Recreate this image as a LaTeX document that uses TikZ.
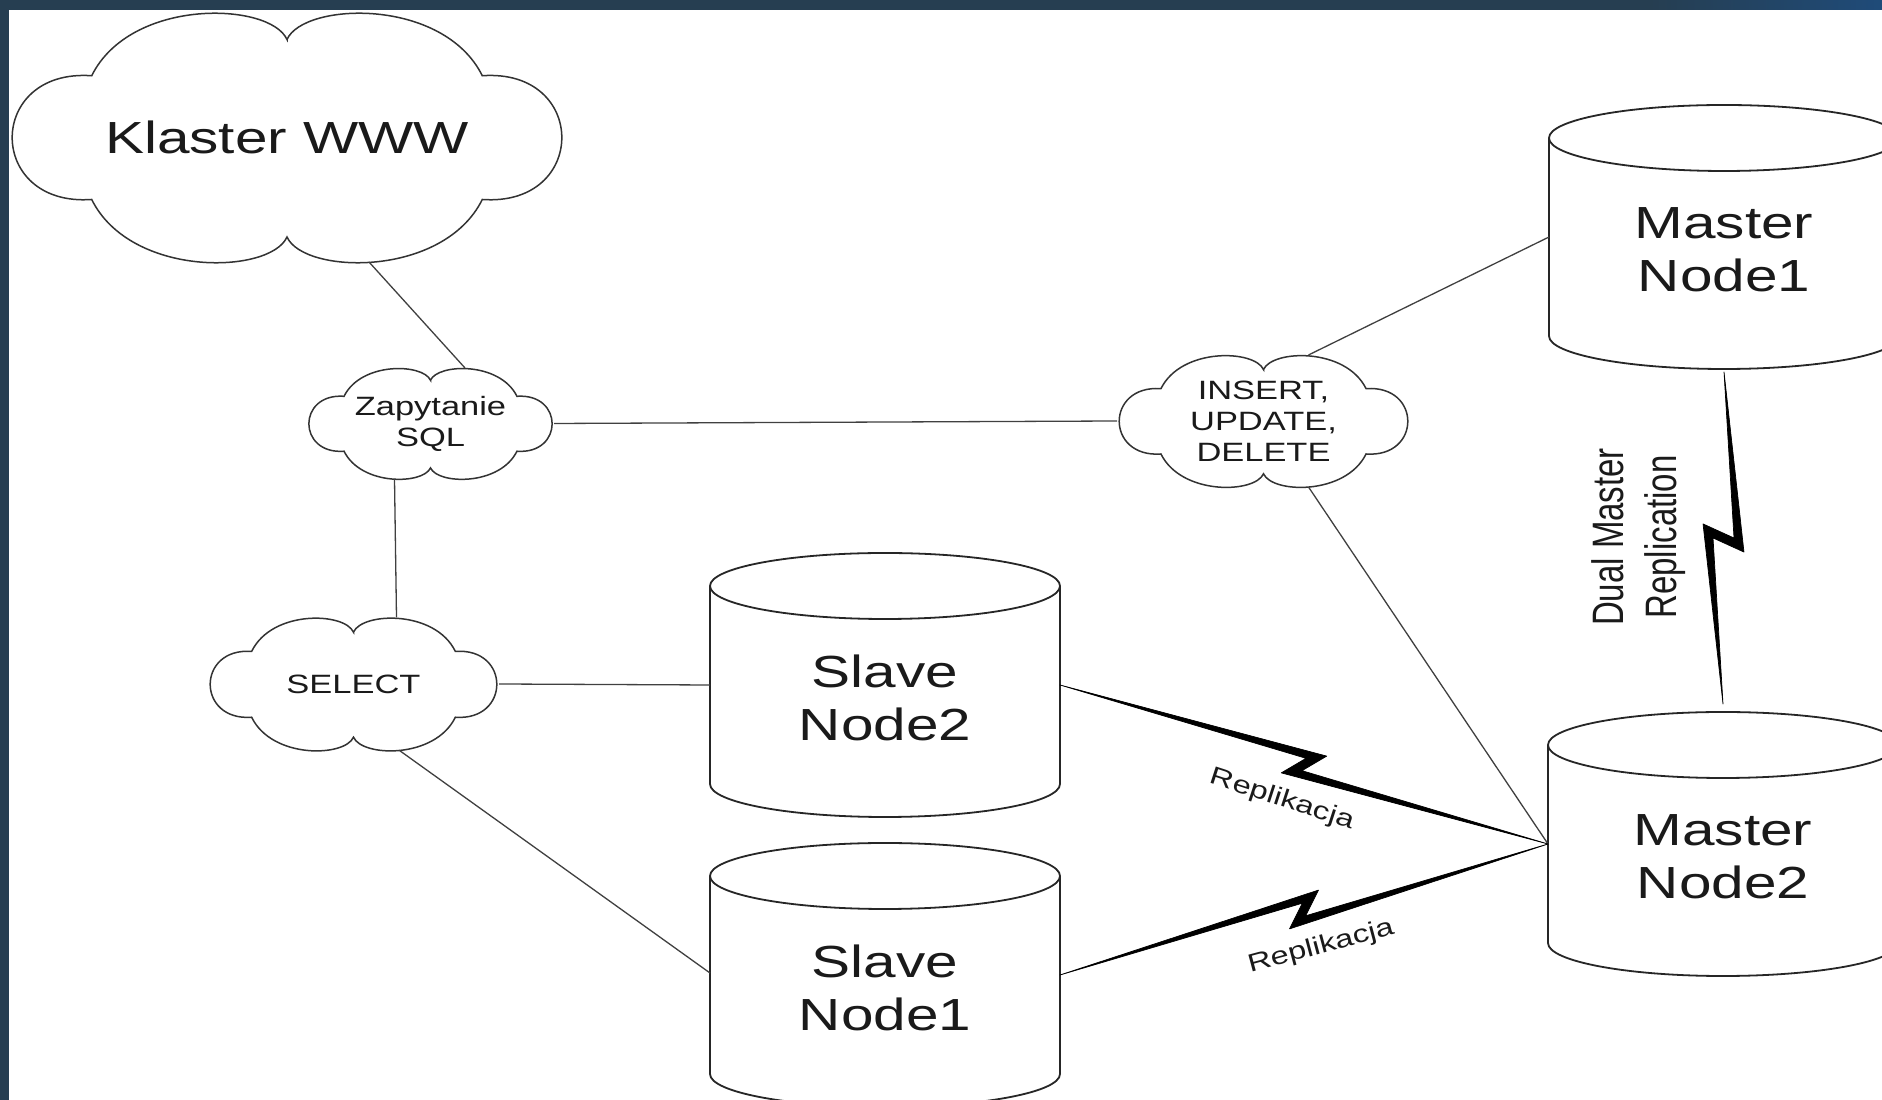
\documentclass[tikz,border=0pt]{standalone}
\usepackage{fontspec}
\setmainfont{Liberation Sans}[FakeStretch=1.3]
\newfontfamily\narrowfont{Liberation Sans}[FakeStretch=0.75]
\usetikzlibrary{calc}
\definecolor{frame}{HTML}{263E51}
\definecolor{frameblue}{HTML}{1F4B79}
\definecolor{ink}{HTML}{1A1A1A}

\newcommand{\cloudshape}[3]{%
  \draw[cloudline, shift={(#1.center)}, xscale=#2, yscale=#3]
    (0,0.78) .. controls (0.06,1.08) and (0.56,1.12) .. (0.70,0.49)
    .. controls (1.08,0.55) and (1.08,-0.56) .. (0.70,-0.50)
    .. controls (0.56,-1.13) and (0.06,-1.10) .. (0,-0.80)
    .. controls (-0.06,-1.10) and (-0.56,-1.13) .. (-0.70,-0.50)
    .. controls (-1.08,-0.56) and (-1.08,0.55) .. (-0.70,0.49)
    .. controls (-0.56,1.12) and (-0.06,1.08) .. cycle;}

\newcommand{\dbshape}[1]{%
  \draw[cylline] ([yshift=-33pt]#1.north) ellipse [x radius=175pt, y radius=33pt];
  \draw[cylline] ([yshift=-33pt]#1.north west) -- ([yshift=33pt]#1.south west)
    arc[start angle=180, end angle=360, x radius=175pt, y radius=33pt]
    -- ([yshift=-33pt]#1.north east);}

\newcommand{\bolt}[5]{%
  \filldraw[boltstyle] (#1)
    -- ($(#1)!0.5!(#2)!#3!(#2)!#4!90:(#2)$)
    -- ($(#1)!0.5!(#2)!-#5!90:(#2)$)
    -- (#2)
    -- ($(#1)!0.5!(#2)!-#3!(#2)!-#4!90:(#2)$)
    -- ($(#1)!0.5!(#2)!#5!90:(#2)$)
    -- cycle;}

\begin{document}
\begin{tikzpicture}[x=1pt,y=1pt,
  cloudline/.style={draw=black!80, line width=1.5pt},
  cylline/.style={draw=black!85, line width=1.8pt},
  link/.style={draw=black!75, line width=1.3pt},
  boltstyle/.style={fill=black, draw=black, line width=0.7pt, line join=round},
  box/.style={inner sep=0pt, outer sep=0pt, align=center, text=ink},
  bigtext/.style={font=\fontsize{45}{53}\selectfont},
  smalltext/.style={font=\fontsize{26.5}{31}\selectfont},
  reptext/.style={box, font=\fontsize{25}{30}\selectfont},
  dualtext/.style={box, font=\narrowfont\fontsize{44}{53}\selectfont},
  cylbox/.style={box, minimum width=350pt, minimum height=264pt}
]
\useasboundingbox (0,0) rectangle (1882,1100);
\fill[white] (0,0) rectangle (1882,1100);

\begin{scope}
\clip (0,0) rectangle (1882,1100);

% clouds
\node[box, bigtext, minimum width=558pt, minimum height=250pt] (kl) at (287,963) {Klaster WWW};
\node[box, smalltext, minimum width=247pt, minimum height=111pt] (sql) at (430.5,676.5) {Zapytanie\\SQL};
\node[box, smalltext, minimum width=293pt, minimum height=132pt] (ins) at (1263.5,679) {INSERT,\\UPDATE,\\DELETE};
\node[box, smalltext, minimum width=291pt, minimum height=133pt] (sel) at (353.5,416) {SELECT};
\cloudshape{kl}{279}{125}
\cloudshape{sql}{123.5}{55.5}
\cloudshape{ins}{146.5}{66}
\cloudshape{sel}{145.5}{66.5}

% databases
\node[cylbox] (s2) at (885,415) {};
\node[cylbox] (s1) at (885,125) {};
\node[cylbox] (m1) at (1724,863) {};
\node[cylbox] (m2) at (1723,256) {};
\dbshape{s2}
\dbshape{s1}
\dbshape{m1}
\dbshape{m2}
\node[box, bigtext] (s2t) at ($(s2)+(0,-13)$) {Slave\\Node2};
\node[box, bigtext] (s1t) at ($(s1)+(0,-13)$) {Slave\\Node1};
\node[box, bigtext] (m1t) at ($(m1)+(0,-13)$) {Master\\Node1};
\node[box, bigtext] (m2t) at ($(m2)+(0,-13)$) {Master\\Node2};

% connectors
\draw[link] ($(kl.south)+(82,0)$) -- ($(sql.north)+(34.5,0)$);
\draw[link] (sql.east) -- (ins.west);
\draw[link] ($(sql.south)+(-36,0)$) -- ($(sel.north)+(43,0)$);
\draw[link] (sel.east) -- (s2.west);
\draw[link] ($(sel.south)+(46,0)$) -- ($(s1.west)+(0,2)$);
\draw[link] ($(ins.north)+(45,0)$) -- (m1.west);
\draw[link] ($(ins.south)+(45,0)$) -- (m2.west);

% replication bolts
\coordinate (vb1) at ($(m1.south)+(0,-3)$);
\coordinate (vb2) at ($(m2.north)+(0,8)$);
\bolt{s2.east}{m2.west}{19pt}{15pt}{6.5pt}
\bolt{s1.east}{m2.west}{19pt}{15pt}{6.5pt}
\bolt{vb1}{vb2}{14pt}{20.5pt}{10.5pt}

\node[reptext, rotate=-18] (rep1) at (1282,300) {Replikacja};
\node[reptext, rotate=15] (rep2) at (1321,153) {Replikacja};
\node[dualtext, rotate=90] (dmr) at (1639,563) {Dual Master\\Replication};
\end{scope}

% window frame
\fill[frame] (0,0) rectangle (9,1100);
\fill[frame] (0,1090) rectangle (1650,1100);
\shade[left color=frame, right color=frameblue] (1650,1090) rectangle (1882,1100);
\end{tikzpicture}
\end{document}
